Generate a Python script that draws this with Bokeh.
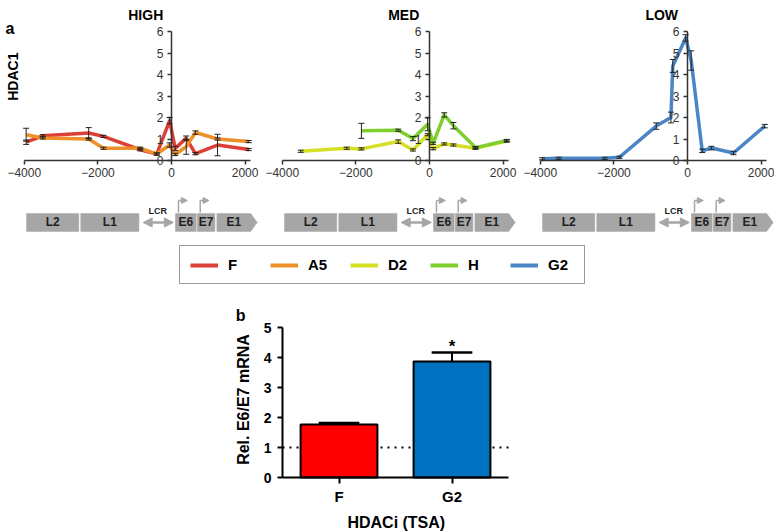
from math import pi
from bokeh.plotting import figure
from bokeh.models import (ColumnDataSource, FixedTicker, Whisker, TeeHead, Arrow,
                          NormalHead, Legend, LegendItem, Range1d)
from bokeh.layouts import column, row
from bokeh.embed import file_html
from bokeh.resources import INLINE
from bokeh.core.properties import value

FONT = "Liberation Sans"

# ---------------- data: panel a (HDAC1 ChIP along the genome) ----------------
panel_titles = ["HIGH", "MED", "LOW"]
x_ticks = [-4000, -2000, 0, 2000]
y_ticks = [0, 1, 2, 3, 4, 5, 6]

high_x = [-3950, -3500, -2250, -1850, -850, -400, -50, 100, 400, 650, 1250, 2100]
F_vals = [0.85, 1.15, 1.28, 1.12, 0.50, 0.30, 1.85, 0.56, 1.04, 0.32, 0.72, 0.51]
F_err = [0.10, 0.05, 0.25, 0.05, 0.05, 0.05, 0.15, 0.10, 0.10, 0.05, 0.50, 0.05]
A5_vals = [1.20, 1.05, 1.00, 0.57, 0.57, 0.30, 0.72, 0.28, 0.64, 1.30, 1.00, 0.88]
A5_err = [0.30, 0.05, 0.05, 0.05, 0.05, 0.05, 0.10, 0.05, 0.35, 0.08, 0.05, 0.05]

med_D2_x = [-3500, -2250, -1850, -850, -450, -50, 100, 400, 650, 1250, 2100]
D2_vals = [0.43, 0.57, 0.54, 0.88, 0.49, 1.20, 0.55, 0.77, 0.72, 0.57, 0.90]
D2_err = [0.05, 0.05, 0.05, 0.08, 0.05, 0.05, 0.05, 0.05, 0.05, 0.05, 0.05]
med_H_x = [-1850, -850, -450, -50, 100, 400, 650, 1250, 2100]
H_vals = [1.38, 1.41, 1.02, 1.68, 0.80, 2.12, 1.62, 0.60, 0.93]
H_err = [0.35, 0.05, 0.10, 0.30, 0.05, 0.10, 0.15, 0.05, 0.05]

low_x = [-3950, -3500, -2250, -1850, -850, -450, -400, -50, 100, 400, 650, 1250, 2100]
G2_vals = [0.08, 0.10, 0.10, 0.15, 1.60, 2.00, 4.40, 5.70, 4.65, 0.45, 0.58, 0.35, 1.60]
G2_err = [0.05, 0.05, 0.05, 0.05, 0.15, 0.25, 0.30, 0.15, 0.45, 0.08, 0.08, 0.08, 0.08]

series_names = ["F", "A5", "D2", "H", "G2"]
series_colors = ["#dc3f36", "#ef8f2a", "#d6df24", "#7fcf2e", "#4a85c6"]

# genome map (same coordinate system as the x axis)
gene_names = ["L2", "L1", "E6", "E7", "E1"]
gene_start = [-3940, -2466, 107, 700, 1233]
gene_end = [-2520, -885, 670, 1180, 2330]
lcr_label = "LCR"
lcr_start, lcr_end = -830, 80
promoters = [190, 780]

# ---------------- data: panel b ----------------
bar_cats = ["F", "G2"]
bar_vals = [1.77, 3.87]
bar_err = [0.05, 0.30]
bar_colors = ["#ff0000", "#0070c0"]
bar_ticks = [0, 1, 2, 3, 4, 5]
bar_ref = 1
bar_sig = ["", "*"]

# ---------------- layout constants ----------------
TOP_H = 240
PX = 0.0368          # px per bp
Y1 = 160 / 21.5
Y0 = -(TOP_H - 160) / 21.5
GREY = "#a6a6a6"
AX = "#333333"


def style_axes(p, xb, yb, xt, yt, xfix, yfix, lab_size, bold, width):
    xa = p.xaxis[0]
    ya = p.yaxis[0]
    xa.fixed_location = xfix
    ya.fixed_location = yfix
    xa.bounds = xb
    ya.bounds = yb
    xa.ticker = FixedTicker(ticks=xt)
    ya.ticker = FixedTicker(ticks=yt)
    col = "black" if bold else AX
    for a in (xa, ya):
        a.minor_tick_line_color = None
        a.major_tick_in = 0
        a.axis_line_color = col
        a.major_tick_line_color = col
        a.axis_line_width = width
        a.major_tick_line_width = width
        a.major_label_text_font = FONT
        a.major_label_text_font_size = lab_size
        a.major_label_text_color = col
        a.major_label_text_font_style = "bold" if bold else "normal"


def panel(width, x_start, title, lines, first=False):
    x_end = x_start + width / PX
    p = figure(width=width, height=TOP_H, x_range=Range1d(x_start, x_end),
               y_range=Range1d(Y0, Y1), output_backend="svg", toolbar_location=None,
               min_border=0, min_border_left=0, min_border_right=0,
               min_border_top=0, min_border_bottom=0)
    p.outline_line_color = None
    p.grid.visible = False
    style_axes(p, (-4000, 2150), (0, 6), x_ticks, y_ticks, 0, 0, "12px", False, 1.5)
    p.xaxis[0].major_tick_out = 4
    p.xaxis[0].major_label_standoff = 3
    p.yaxis[0].major_tick_out = 4
    p.yaxis[0].major_label_standoff = 4

    for xs, vals, errs, color in lines:
        p.line(xs, vals, line_color=color, line_width=3.5, line_join="round")
    for xs, vals, errs, color in lines:
        src = ColumnDataSource(dict(x=xs, up=[v + e for v, e in zip(vals, errs)],
                                    lo=[v - e for v, e in zip(vals, errs)]))
        w = Whisker(source=src, base="x", upper="up", lower="lo", dimension="height",
                    line_color="#222222", line_width=1, level="annotation",
                    upper_head=TeeHead(size=6, line_color="#222222", line_width=1),
                    lower_head=TeeHead(size=6, line_color="#222222", line_width=1))
        p.add_layout(w)

    p.text(x=[-700], y=[6.79], text=[title], text_font=value(FONT),
           text_font_style="bold", text_font_size="14px", text_align="center",
           text_baseline="alphabetic", text_color="black")
    if first:
        p.text(x=[x_start + 136], y=[6.14], text=["a"], text_font=value(FONT),
               text_font_style="bold", text_font_size="16px", text_align="left",
               text_baseline="alphabetic", text_color="black")
        p.text(x=[x_start + 353], y=[3.9], text=["HDAC1"], text_font=value(FONT),
               text_font_style="bold", text_font_size="14px", text_align="center",
               text_baseline="middle", angle=pi / 2, text_color="black")

    # genome map
    yt, yb = -2.465, -3.30
    yc = (yt + yb) / 2
    gx, gy, lx = [], [], []
    for i, (s, e) in enumerate(zip(gene_start, gene_end)):
        if i == len(gene_start) - 1:
            tip = e - 180
            gx.append([s, tip, e, tip, s])
            gy.append([yt, yt, yc, yb, yb])
            lx.append((s + tip) / 2)
        else:
            gx.append([s, e, e, s])
            gy.append([yt, yt, yb, yb])
            lx.append((s + e) / 2)
    p.patches(gx, gy, fill_color=GREY, line_color=GREY, line_width=0.5)
    p.text(x=lx, y=[yc] * len(lx), text=gene_names, text_font=value(FONT),
           text_font_style="bold", text_font_size="12px", text_align="center",
           text_baseline="middle", text_color="#1e1e1e")
    p.add_layout(Arrow(x_start=lcr_start + 60, y_start=yc, x_end=lcr_end - 30, y_end=yc,
                       line_color=GREY, line_width=2.5,
                       start=NormalHead(size=9, fill_color=GREY, line_color=GREY),
                       end=NormalHead(size=9, fill_color=GREY, line_color=GREY)))
    p.text(x=[(lcr_start + lcr_end) / 2], y=[-2.33], text=[lcr_label],
           text_font=value(FONT), text_font_style="bold", text_font_size="9px",
           text_align="center", text_baseline="middle", text_color="#1e1e1e")
    p.segment(x0=promoters, y0=[yt + 0.05] * len(promoters), x1=promoters,
              y1=[-1.86] * len(promoters), line_color=GREY, line_width=1.5)
    for px_ in promoters:
        p.add_layout(Arrow(x_start=px_, y_start=-1.86, x_end=px_ + 240, y_end=-1.86,
                           line_color=GREY, line_width=1.5,
                           end=NormalHead(size=6, fill_color=GREY, line_color=GREY)))
    return p


p1 = panel(262, -171 / PX, panel_titles[0],
           [(high_x, F_vals, F_err, series_colors[0]),
            (high_x, A5_vals, A5_err, series_colors[1])], first=True)
p2 = panel(258, -167 / PX, panel_titles[1],
           [(med_D2_x, D2_vals, D2_err, series_colors[2]),
            (med_H_x, H_vals, H_err, series_colors[3])])
p3 = panel(254, -167 / PX, panel_titles[2],
           [(low_x, G2_vals, G2_err, series_colors[4])])

# ---------------- legend ----------------
lg = figure(width=774, height=52, x_range=Range1d(0, 1), y_range=Range1d(0, 1),
            output_backend="svg", toolbar_location=None, x_axis_location=None,
            y_axis_location=None, min_border=0, min_border_left=0, min_border_right=0,
            min_border_top=0, min_border_bottom=0)
lg.outline_line_color = None
lg.grid.visible = False
items = []
for name, color in zip(series_names, series_colors):
    # legend proxy, kept outside the visible range
    r = lg.line(x=[-2, -1], y=[-2, -2], line_color=color, line_width=4)
    items.append(LegendItem(label=name, renderers=[r]))
leg = Legend(items=items, orientation="horizontal", location=(179, 8), padding=10,
             spacing=16, glyph_width=28, glyph_height=14, label_width=26,
             label_height=14, label_standoff=10, margin=0,
             label_text_font=FONT, label_text_font_size="15px",
             label_text_font_style="bold", label_text_color="black",
             border_line_color="#333333", border_line_width=1.5,
             background_fill_color="white", background_fill_alpha=1)
lg.add_layout(leg)

# ---------------- panel b ----------------
BPX = 113.0
BX0 = -0.5 - 282 / BPX
BX1 = BX0 + 774 / BPX
BH = 240
bp = figure(width=774, height=BH, x_range=Range1d(BX0, BX1),
            y_range=Range1d(-(BH - 185) / 30, 185 / 30),
            output_backend="svg", toolbar_location=None, min_border=0, min_border_left=0,
            min_border_right=0, min_border_top=0, min_border_bottom=0)
bp.outline_line_color = None
bp.grid.visible = False
xpos = list(range(len(bar_cats)))
style_axes(bp, (-0.5, len(bar_cats) - 0.5), (0, 5), xpos, bar_ticks, 0, -0.5,
           "14px", True, 2)
bp.xaxis[0].major_label_overrides = {i: c for i, c in enumerate(bar_cats)}
bp.xaxis[0].major_label_text_font_size = "15px"
bp.xaxis[0].major_tick_out = 6
bp.xaxis[0].major_label_standoff = 4
bp.yaxis[0].major_tick_out = 5
bp.yaxis[0].major_label_standoff = 6

bp.line(x=[-0.5, len(bar_cats) - 0.5], y=[bar_ref, bar_ref], line_dash="2 5",
        line_color="black", line_width=2)
bp.vbar(x=xpos, top=bar_vals, width=0.68, fill_color=bar_colors, line_color="black",
        line_width=2)
tops = [v + e for v, e in zip(bar_vals, bar_err)]
bp.segment(x0=xpos, y0=bar_vals, x1=xpos, y1=tops, line_color="black", line_width=2)
bp.segment(x0=[x - 0.18 for x in xpos], y0=tops, x1=[x + 0.18 for x in xpos], y1=tops,
           line_color="black", line_width=2.5)
bp.text(x=xpos, y=[t + 0.2 for t in tops], text=bar_sig, text_font=value(FONT),
        text_font_style="bold", text_font_size="17px", text_align="center",
        text_baseline="middle", text_color="black")
bp.text(x=[-0.87], y=[5.4], text=["b"], text_font=value(FONT), text_font_style="bold",
        text_font_size="16px", text_align="center", text_baseline="middle",
        text_color="black")
bp.text(x=[-0.845], y=[2.6], text=["Rel. E6/E7 mRNA"], text_font=value(FONT),
        text_font_style="bold", text_font_size="16px", text_align="center",
        text_baseline="middle", angle=pi / 2, text_color="black")
bp.text(x=[0.507], y=[-1.5], text=["HDACi (TSA)"], text_font=value(FONT),
        text_font_style="bold", text_font_size="16px", text_align="center",
        text_baseline="middle", text_color="black")

layout = column(row(p1, p2, p3), lg, bp)
open("out.html", "w").write(file_html(layout, INLINE))
